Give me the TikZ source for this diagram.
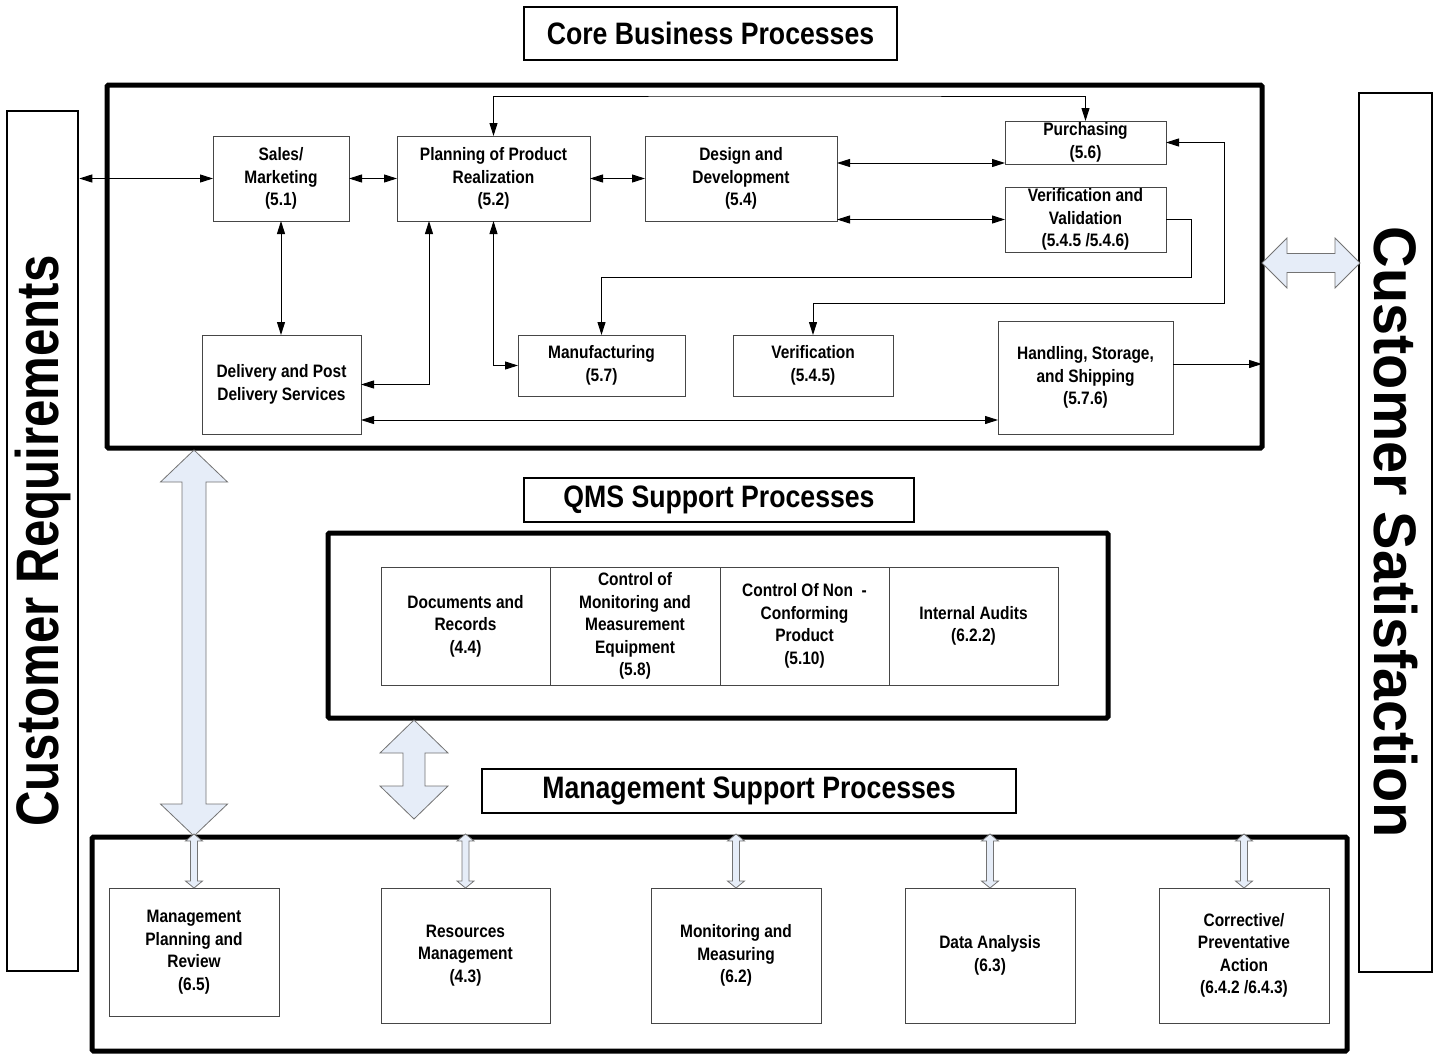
\documentclass[tikz,border=0pt]{standalone}
\usepackage{fontspec}
\setmainfont{Liberation Sans}
\newfontfamily\condfont[FakeStretch=0.86]{Liberation Sans}
\newfontfamily\reqfont[FakeStretch=0.82]{Liberation Sans}
\newfontfamily\satfont[FakeStretch=0.96]{Liberation Sans}
\usetikzlibrary{arrows.meta,positioning,calc}
\definecolor{paleblue}{RGB}{230,237,248}
\definecolor{edge}{RGB}{70,70,70}
\tikzset{
  >={Triangle[length=13pt,width=8pt]},
  proc/.style={draw=edge,line width=1pt,fill=white,inner sep=0pt,outer sep=0pt,
    align=center,font=\condfont\bfseries\fontsize{18}{22.5}\selectfont},
  group/.style={draw=black,line width=5pt,rounded corners=1.5pt,inner sep=0pt,outer sep=0pt},
  heading/.style={draw=black,line width=2pt,fill=white,inner sep=0pt,
    font=\condfont\bfseries\fontsize{31}{36}\selectfont},
  side/.style={draw=black,line width=2.5pt,inner sep=0pt},
  link/.style={draw=black,line width=1pt},
  hollow/.style={draw=black!55,line width=0.8pt,fill=paleblue,line join=miter},
}
% hollow double arrows: vertical (x, top tip, bottom tip, head half, shaft half, head length)
\newcommand\vhollow[6]{%
  \filldraw[hollow] (#1,#2) -- ({#1+#4},{#2+#6}) -- ({#1+#5},{#2+#6}) -- ({#1+#5},{#3-#6})
    -- ({#1+#4},{#3-#6}) -- (#1,#3) -- ({#1-#4},{#3-#6}) -- ({#1-#5},{#3-#6})
    -- ({#1-#5},{#2+#6}) -- ({#1-#4},{#2+#6}) -- cycle;}
% horizontal (y, left tip, right tip, head half, shaft half, head length)
\newcommand\hhollow[6]{%
  \filldraw[hollow] (#2,#1) -- ({#2+#6},{#1-#4}) -- ({#2+#6},{#1-#5}) -- ({#3-#6},{#1-#5})
    -- ({#3-#6},{#1-#4}) -- (#3,#1) -- ({#3-#6},{#1+#4}) -- ({#3-#6},{#1+#5})
    -- ({#2+#6},{#1+#5}) -- ({#2+#6},{#1+#4}) -- cycle;}

\begin{document}
\begin{tikzpicture}[x=1pt,y=-1pt]
  \useasboundingbox (0,0) rectangle (1442,1055);
  % side bars
  \node[side,minimum width=71pt,minimum height=860pt] (custreq) at (42.5,541)
    {\rotatebox{90}{\reqfont\bfseries\fontsize{60}{70}\selectfont Customer Requirements}};
  \node[side,minimum width=73pt,minimum height=879pt] (custsat) at (1395.5,532.5)
    {\rotatebox{-90}{\satfont\bfseries\fontsize{60}{70}\selectfont Customer Satisfaction}};
  % core business processes
  \node[heading,minimum width=373pt,minimum height=53pt] (coretitle) at (710.5,33.5) {Core Business Processes};
  \node[group,minimum width=1155pt,minimum height=363pt] (core) at (684.5,266.5) {};
  \node[proc,minimum width=136pt,minimum height=85pt] (sales) at (281,178.5) {Sales/\\Marketing\\(5.1)};
  \node[proc,minimum width=193pt,minimum height=85pt] (plan) at (493.5,178.5) {Planning of Product\\Realization\\(5.2)};
  \node[proc,minimum width=192pt,minimum height=85pt] (design) at (741,178.5) {Design and\\Development\\(5.4)};
  \node[proc,minimum width=161pt,minimum height=43pt] (purch) at (1085.5,142.5) {Purchasing\\(5.6)};
  \node[proc,minimum width=161pt,minimum height=65pt] (vv) at (1085.5,219.5) {Verification and\\Validation\\(5.4.5 /5.4.6)};
  \node[proc,minimum width=159pt,minimum height=99pt] (deliv) at (281.5,384.5) {Delivery and Post\\Delivery Services};
  \node[proc,minimum width=167pt,minimum height=61pt] (manuf) at (601.5,365.5) {Manufacturing\\(5.7)};
  \node[proc,minimum width=160pt,minimum height=61pt] (verif) at (813,365.5) {Verification\\(5.4.5)};
  \node[proc,minimum width=175pt,minimum height=113pt] (handl) at (1085.5,377.5) {Handling, Storage,\\and Shipping\\(5.7.6)};
  % core links
  \draw[link,<->] (sales.west -| custreq.east) -- (sales.west);
  \draw[link,<->] (sales.east) -- (plan.west);
  \draw[link,<->] (plan.east) -- (design.west);
  \draw[link,<->] (design.east |- 0,163) -- (purch.west |- 0,163);
  \draw[link,<->] (design.east |- vv.west) -- (vv.west);
  \draw[link,<->] (plan.north) |- (800,96) -| (purch.north);
  \draw[link,->] (vv.east) -| (1191,277) -| (manuf.north);
  \draw[link,<->] (purch.east) -| (1224,303) -| (verif.north);
  \draw[link,<->] (sales.south) -- (sales.south |- deliv.north);
  \draw[link,<->] (plan.south -| 429,0) |- (deliv.east);
  \draw[link,<->] (plan.south) |- (manuf.west);
  \draw[link,<->] (deliv.east |- 0,420) -- (handl.west |- 0,420);
  \draw[link,->] (handl.east |- 0,364) -- (core.east |- 0,364);
  % QMS support processes
  \node[heading,minimum width=390pt,minimum height=44pt] (qmstitle) at (719,500) {QMS Support Processes};
  \node[group,minimum width=780pt,minimum height=185pt] (qms) at (718,625.5) {};
  \node[proc,minimum width=169pt,minimum height=118pt] (docs) at (465.5,626) {Documents and\\Records\\(4.4)};
  \node[proc,minimum width=170pt,minimum height=118pt] (mme) at (635,626) {Control of\\Monitoring and\\Measurement\\Equipment\\(5.8)};
  \node[proc,minimum width=169pt,minimum height=118pt] (ncp) at (804.5,626) {Control Of Non~~-\\Conforming\\Product\\(5.10)};
  \node[proc,minimum width=169pt,minimum height=118pt] (audit) at (973.5,626) {Internal Audits\\(6.2.2)};
  % management support processes
  \node[heading,minimum width=534pt,minimum height=44pt] (mgmttitle) at (749,791) {Management Support Processes};
  \node[group,minimum width=1255pt,minimum height=214pt] (mgmt) at (719.5,944) {};
  \node[proc,minimum width=170pt,minimum height=128pt] (mgmtrev) at (194,952) {Management\\Planning and\\Review\\(6.5)};
  \node[proc,minimum width=169pt,minimum height=135pt] (resmgmt) at (465.5,955.5) {Resources\\Management\\(4.3)};
  \node[proc,minimum width=170pt,minimum height=135pt] (monmeas) at (736,955.5) {Monitoring and\\Measuring\\(6.2)};
  \node[proc,minimum width=170pt,minimum height=135pt] (datan) at (990,955.5) {Data Analysis\\(6.3)};
  \node[proc,minimum width=170pt,minimum height=135pt] (capa) at (1244,955.5) {Corrective/\\Preventative\\Action\\(6.4.2 /6.4.3)};
  % hollow arrows between the groups
  \vhollow{194}{450}{836}{33.5}{12}{32}
  \vhollow{414}{720}{819}{34}{11}{33}
  \hhollow{263}{1262}{1360}{25}{9.5}{25}
  \foreach \x in {194,465.5,736,990,1244}
    {\vhollow{\x}{834}{888}{8.5}{3.5}{7}}
\end{tikzpicture}
\end{document}
